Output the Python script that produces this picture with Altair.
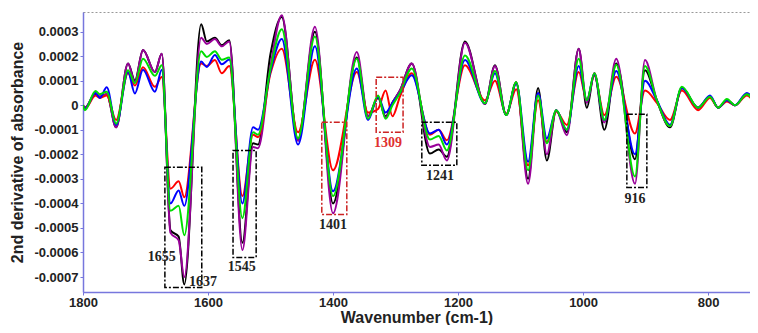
import altair as alt
import pandas as pd

# wavenumber (cm-1) of the read points
wavenumber = [1800, 1797, 1780, 1773, 1762, 1747, 1728, 1717, 1704, 1685,
              1674, 1660, 1647, 1638, 1611, 1602, 1589, 1578, 1566, 1545,
              1528, 1520, 1500, 1482, 1456, 1429, 1400, 1362, 1344, 1328,
              1316, 1305, 1293, 1274, 1245, 1231, 1218, 1189, 1157, 1141,
              1123, 1107, 1088, 1072, 1058, 1043, 1026, 1007, 994, 982,
              966, 947, 917, 901, 882, 861, 842, 816, 797, 784,
              770, 757, 738, 722]

# second derivative values, in units of 1e-4
red = [0, -0.15, 0.4, 0.3, 0.4, -0.6, 1.3, 0.8, 1.55, 0.75,
       1.15, -3.4, -3.1, -3.75, 1.7, 1.6, 1.84, 1.3, 1.6, -3.7,
       -1.2, -1.3, 1.3, 2.3, -1.1, 1.85, -2.65, 1.35, -0.3, -0.15,
       0.6, -0.45, 0.35, 1.3, -1.2, -1.0, -1.43, 1.63, 0.2, 1.0,
       -0.35, 0.65, -2.45, 0.2, -1.5, -0.25, -0.8, 1.35, 0.2, 1.2,
       -0.4, 1.16, -1.15, 0.6, 0.1, -0.6, 0.6, -0.2, 0.3, -0.1,
       0.15, 0.0, 0.4, -0.1]
blue = [0, -0.15, 0.5, 0.3, 0.73, -0.8, 1.35, 0.48, 1.45, 0.55,
        1.45, -4.0, -3.47, -4.1, 1.78, 1.56, 2.05, 1.67, 1.86, -4.0,
        -0.9, -1.0, 1.4, 2.7, -1.6, 2.4, -3.5, 1.5, -0.6, 0.35,
        -0.3, 0.1, 0.5, 1.22, -1.15, -1.0, -1.6, 1.84, 0.08, 1.3,
        -0.4, 0.9, -2.3, 0.5, -1.35, -0.2, -1.0, 1.6, 0.2, 1.25,
        -0.6, 1.4, -2.0, 1.0, 0.2, -0.8, 0.7, -0.1, 0.4, -0.1,
        0.2, 0.0, 0.5, -0.1]
green = [0, -0.2, 0.58, 0.45, 0.55, -0.75, 1.43, 0.9, 1.9, 1.2,
         1.63, -4.3, -4.1, -5.3, 2.2, 1.97, 2.2, 1.85, 1.95, -4.6,
         -1.1, -1.2, 1.5, 3.1, -1.35, 2.8, -3.7, 1.9, -0.55, 0.4,
         -0.55, 0.0, 0.5, 1.5, -1.4, -1.25, -1.84, 2.03, 0.08, 1.4,
         -0.4, 0.94, -2.65, 0.4, -1.55, -0.2, -1.0, 1.9, 0.2, 1.3,
         -0.6, 1.65, -2.9, 1.6, 0.2, -0.85, 0.75, -0.1, 0.35, -0.1,
         0.25, 0.0, 0.45, -0.1]
purple = [0, -0.1, 0.5, 0.35, 0.45, -0.9, 1.7, 0.95, 2.25, 1.35,
          2.1, -5.2, -5.5, -7.0, 2.75, 2.5, 2.7, 2.4, 2.6, -5.9,
          -1.7, -1.75, 1.6, 3.67, -1.45, 3.2, -4.4, 2.17, -0.45, 0.35,
          -0.5, 0.1, 0.6, 1.7, -1.7, -1.6, -2.25, 2.55, 0.05, 1.6,
          -0.4, 0.9, -3.2, 0.5, -2.0, -0.2, -1.22, 2.3, 0.1, 1.3,
          -0.7, 1.9, -3.2, 1.84, 0.2, -0.85, 0.7, -0.1, 0.35, -0.1,
          0.2, 0.0, 0.45, -0.1]
black = [0, -0.1, 0.45, 0.35, 0.45, -0.9, 1.7, 1.0, 2.25, 1.35,
         2.1, -5.1, -5.35, -7.3, 3.3, 2.6, 2.75, 2.45, 2.65, -5.6,
         -1.55, -1.6, 2.1, 3.6, -1.4, 3.0, -4.0, 1.95, -0.45, 0.3,
         -0.45, 0.1, 0.6, 1.7, -1.97, -1.8, -2.1, 2.6, 0.05, 1.63,
         -0.4, 0.94, -3.0, 0.7, -2.25, -0.2, -1.1, 2.3, -0.1, 1.3,
         -1.0, 1.7, -2.2, 1.43, 0.2, -0.9, 0.7, -0.1, 0.35, -0.1,
         0.2, 0.0, 0.45, -0.1]

series_names = ["black", "purple", "red", "blue", "green"]
series_values = [black, purple, red, blue, green]
series_colors = ["#000000", "#990099", "#ff0000", "#0000ff", "#00dd00"]

# annotation boxes (wavenumber range, value range in 1e-4)
box_x1 = [1669, 1560, 1418, 1331, 1258, 930]
box_x2 = [1610, 1523, 1378, 1288, 1202, 898]
box_y1 = [-2.53, -1.84, -0.69, 1.14, -0.69, -0.37]
box_y2 = [-7.43, -6.2, -4.45, -1.1, -2.45, -3.35]
box_colors = ["#000000", "#000000", "#cc2222", "#cc2222", "#000000", "#000000"]

# annotation labels
label_text = ["1655", "1637", "1545", "1401", "1309", "1241", "916"]
label_x = [1674, 1608, 1546, 1400, 1312, 1229, 917]
label_y = [-6.2, -7.22, -6.6, -4.9, -1.55, -2.9, -3.84]
label_colors = ["#222222", "#222222", "#222222", "#222222", "#e03030", "#222222", "#222222"]

y_ticks = [-0.0007, -0.0006, -0.0005, -0.0004, -0.0003, -0.0002, -0.0001, 0, 0.0001, 0.0002, 0.0003]
x_ticks = [800, 1000, 1200, 1400, 1600, 1800]

U = 1e-4
axis_color = "#7777dd"

xs = alt.Scale(domain=[733, 1800], reverse=True, nice=False, zero=False)
ys = alt.Scale(domain=[-0.000761, 0.00038], nice=False, zero=False)
x_axis = alt.Axis(values=x_ticks, format="d", title="Wavenumber (cm-1)", grid=False,
                  domainColor=axis_color, domainWidth=1.5, tickColor=axis_color, tickSize=3,
                  labelFont="Liberation Sans", labelFontSize=13, labelFontWeight="bold",
                  labelColor="#222222", labelPadding=1, labelFlush=False,
                  titleFont="Liberation Sans", titleFontSize=16, titleFontWeight="bold",
                  titleColor="#222222", titlePadding=0)
y_axis = alt.Axis(values=y_ticks, labelExpr="replace(format(datum.value, '.4~f'), '\u2212', '-')",
                  title="2nd derivative of absorbance", grid=False,
                  domainColor=axis_color, domainWidth=1.5, tickColor=axis_color, tickSize=3,
                  labelFont="Liberation Sans", labelFontSize=13, labelFontWeight="bold",
                  labelColor="#222222", labelPadding=2,
                  titleFont="Liberation Sans", titleFontSize=16, titleFontWeight="bold",
                  titleColor="#222222", titlePadding=8)

def X(field):
    return alt.X(f"{field}:Q", scale=xs, axis=x_axis)

def Y(field):
    return alt.Y(f"{field}:Q", scale=ys, axis=y_axis)

layers = []
for name, vals, col in zip(series_names, series_values, series_colors):
    df = pd.DataFrame({"wn": wavenumber, "val": [v * U for v in vals]})
    layers.append(
        alt.Chart(df).mark_line(color=col, strokeWidth=2, interpolate="monotone", clip=True)
        .encode(x=X("wn"), y=Y("val"))
    )

boxes = pd.DataFrame({
    "wn": box_x1, "wn2": box_x2,
    "val": [v * U for v in box_y1], "val2": [v * U for v in box_y2],
    "c": box_colors,
})
layers.append(
    alt.Chart(boxes).mark_rect(fillOpacity=0, strokeWidth=1.5, strokeDash=[6, 2, 2, 2])
    .encode(x=X("wn"), x2="wn2", y=Y("val"), y2="val2", stroke=alt.Stroke("c:N", scale=None))
)

labels = pd.DataFrame({
    "wn": label_x, "val": [v * U for v in label_y], "t": label_text, "c": label_colors,
})
layers.append(
    alt.Chart(labels).mark_text(font="Liberation Serif", fontSize=14, fontWeight="bold")
    .encode(x=X("wn"), y=Y("val"), text="t:N", color=alt.Color("c:N", scale=None))
)

chart = alt.layer(*layers).properties(
    width=667, height=280,
    padding={"left": 75, "top": 4, "right": 0, "bottom": 33},
    autosize=alt.AutoSizeParams(type="none"),
    background="white",
).configure_view(stroke="#999999", strokeDash=[2, 2], strokeWidth=1)

chart.save("out.html", embed_options={"renderer": "svg", "actions": False})
